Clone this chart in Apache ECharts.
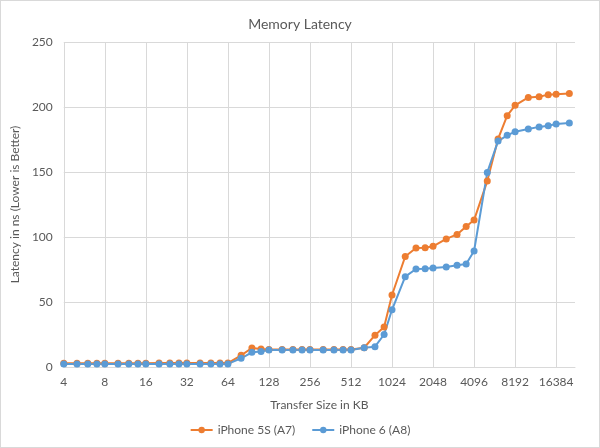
<!DOCTYPE html>
<html>
<head>
<meta charset="utf-8">
<script src="https://cdn.jsdelivr.net/npm/echarts@6/dist/echarts.min.js"></script>
<style>
html,body{margin:0;padding:0;background:#fff;}
#c{width:598px;height:446px;border:1px solid #d9d9d9;}
</style>
</head>
<body>
<div id="c"></div>
<script>
const sizesKB = [4,5,6,7,8,10,12,14,16,20,24,28,32,40,48,56,64,80,96,112,128,160,192,224,256,320,384,448,512,640,768,896,1024,1280,1536,1792,2048,2560,3072,3584,4096,5120,6144,7168,8192,10240,12288,14336,16384,20480];
const iphone5s = [2.8,2.8,2.8,2.8,2.8,2.8,2.8,2.8,2.8,3.0,3.0,3.0,3.0,3.0,3.0,3.0,3.0,9,14.6,13.8,13.5,13.5,13.5,13.5,13.5,13.5,13.5,13.5,13.5,14.8,24.5,30.8,55.4,85,91.5,91.8,92.8,98.5,102,108,113,143,175.4,193.3,201.3,207.4,207.9,209.5,209.8,210.3];
const iphone6 = [2.4,2.4,2.4,2.4,2.4,2.4,2.4,2.4,2.4,2.4,2.4,2.4,2.4,2.4,2.4,2.4,2.4,6.7,11.3,12,13,13,13,13,13,13,13,13,13,14.8,15.6,25,44,69.5,75.4,75.6,76.2,76.9,78.2,79.2,89.2,149.7,173.8,178.2,181,183,184.7,185.6,186.9,187.7];
const xTickLabels = [4,8,16,32,64,128,256,512,1024,2048,4096,8192,16384];
const seriesNames = ['iPhone 5S (A7)','iPhone 6 (A8)'];

const toPoints = vals => sizesKB.map((s,i)=>[Math.log2(s), vals[i]]);
const labelColor = '#595959';
const font = 'Lato, "Open Sans", sans-serif';
const chart = echarts.init(document.getElementById('c'));
chart.setOption({
  animation:false,
  textStyle:{fontFamily:font},
  title:{text:'Memory Latency',left:'center',top:11,textStyle:{fontFamily:font,fontSize:14,fontWeight:'normal',color:labelColor}},
  grid:{left:58,right:24,top:41,bottom:80},
  legend:{bottom:6,left:'center',itemWidth:22,itemHeight:8,itemGap:16,
    textStyle:{fontFamily:font,fontSize:12,color:labelColor},data:seriesNames},
  xAxis:{type:'value',min:Math.log2(xTickLabels[0]),max:14.46,interval:1,
    name:'Transfer Size in KB',nameLocation:'middle',nameGap:32,
    nameTextStyle:{fontFamily:font,fontSize:12,color:labelColor},
    axisLine:{show:true,lineStyle:{color:'#d9d9d9',width:1}},
    axisTick:{show:false},
    axisLabel:{color:labelColor,fontSize:12,fontFamily:font,margin:9,showMaxLabel:false,
      formatter:v=>{const k=Math.pow(2,v);return xTickLabels.includes(k)?String(k):'';}},
    splitLine:{show:true,showMaxLine:false,lineStyle:{color:'#d9d9d9',width:1}}},
  yAxis:{type:'value',min:0,max:250,interval:50,
    name:'Latency in ns (Lower is Better)',nameLocation:'middle',nameGap:25,
    nameTextStyle:{fontFamily:font,fontSize:12,color:labelColor},
    axisLine:{show:false},axisTick:{show:false},
    axisLabel:{color:labelColor,fontSize:12,fontFamily:font,margin:11},
    splitLine:{lineStyle:{color:'#d9d9d9',width:1}}},
  series:[
    {name:seriesNames[0],type:'line',data:toPoints(iphone5s),symbol:'circle',symbolSize:7,
      itemStyle:{color:'#ED7D31'},lineStyle:{width:2,color:'#ED7D31'}},
    {name:seriesNames[1],type:'line',data:toPoints(iphone6),symbol:'circle',symbolSize:7,
      itemStyle:{color:'#5B9BD5'},lineStyle:{width:2,color:'#5B9BD5'}}
  ]
});
</script>
</body>
</html>
